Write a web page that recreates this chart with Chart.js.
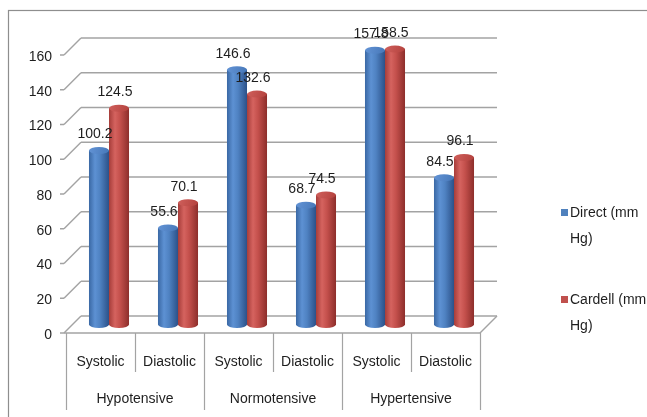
<!DOCTYPE html>
<html>
<head>
<meta charset="utf-8">
<script src="https://cdn.jsdelivr.net/npm/chart.js@4.4.1/dist/chart.umd.min.js"></script>
<style>
  html, body { margin: 0; padding: 0; background: #fff; overflow: hidden; }
  #wrap { width: 647px; height: 417px; position: relative; }
  canvas { display: block; }
</style>
</head>
<body>
<div id="wrap"><canvas id="c" width="647" height="417"></canvas></div>
<script>
// Blood pressure readings by group, two measuring methods
const categories = ['Systolic', 'Diastolic', 'Systolic', 'Diastolic', 'Systolic', 'Diastolic'];
const groups = ['Hypotensive', 'Normotensive', 'Hypertensive'];
const seriesNames = ['Direct (mm Hg)', 'Cardell (mm Hg)'];
const directValues = [100.2, 55.6, 146.6, 68.7, 157.8, 84.5];
const cardellValues = [124.5, 70.1, 132.6, 74.5, 158.5, 96.1];
const yTicks = [0, 20, 40, 60, 80, 100, 120, 140, 160];

const FONT = { family: "'Liberation Sans', Arial, sans-serif", size: 14 };
const TEXT = '#1e1e1e';
const LINE = '#a3a3a3';
const DEPTH = 17;           // wall depth of the pseudo-3D box
const HALF = DEPTH / 2;     // bars stand in the middle of the box

const palettes = [
  { base: '#4f81bd', body: ['#3a68a4', '#5d91d3', '#4f82c2', '#2c5189'], cap: ['#6394d6', '#4677b8'] },
  { base: '#c0504d', body: ['#a63d3a', '#d5635f', '#c4504c', '#8d2e2b'], cap: ['#d0605c', '#b3413d'] }
];

function line(ctx, x1, y1, x2, y2) {
  ctx.beginPath();
  ctx.moveTo(x1, y1);
  ctx.lineTo(x2, y2);
  ctx.stroke();
}

function cylinder(ctx, cx, top, base, w, pal) {
  const rx = w / 2, ry = 3.5;
  const g = ctx.createLinearGradient(cx - rx, 0, cx + rx, 0);
  g.addColorStop(0, pal.body[0]);
  g.addColorStop(0.3, pal.body[1]);
  g.addColorStop(0.55, pal.body[2]);
  g.addColorStop(1, pal.body[3]);
  ctx.beginPath();
  ctx.moveTo(cx - rx, top);
  ctx.lineTo(cx - rx, base);
  ctx.ellipse(cx, base, rx, ry, 0, Math.PI, 0, true);
  ctx.lineTo(cx + rx, top);
  ctx.closePath();
  ctx.fillStyle = g;
  ctx.fill();
  const cg = ctx.createLinearGradient(cx - rx, top - ry, cx + rx, top + ry);
  cg.addColorStop(0, pal.cap[0]);
  cg.addColorStop(1, pal.cap[1]);
  ctx.beginPath();
  ctx.ellipse(cx, top, rx, ry, 0, 0, Math.PI * 2);
  ctx.fillStyle = cg;
  ctx.fill();
}

const boxPlugin = {
  id: 'box3d',
  beforeDraw(chart) {
    const ctx = chart.ctx;
    ctx.save();
    ctx.strokeStyle = '#8e8e8e';
    ctx.lineWidth = 1.2;
    ctx.strokeRect(8.5, 10.5, 700, 460);
    ctx.restore();
  },
  beforeDatasetsDraw(chart) {
    const ctx = chart.ctx;
    const { left, right, bottom } = chart.chartArea;
    const y = chart.scales.y;
    ctx.save();
    ctx.strokeStyle = LINE;
    ctx.lineWidth = 1.5;
    yTicks.forEach(v => {
      const py = y.getPixelForValue(v);
      line(ctx, left - 6, py, left - 2, py);
      line(ctx, left - 2, py, left - 2 + DEPTH, py - DEPTH);
      line(ctx, left - 2 + DEPTH, py - DEPTH, right + DEPTH, py - DEPTH);
    });
    line(ctx, left - 2, bottom, right, bottom);
    line(ctx, right, bottom, right + DEPTH, bottom - DEPTH);
    ctx.restore();
    // bars sit half a box depth behind the front plane
    ctx.save();
    ctx.translate(HALF, -HALF);
  },
  afterDatasetsDraw(chart) {
    const ctx = chart.ctx;
    chart.data.datasets.forEach((ds, di) => {
      const meta = chart.getDatasetMeta(di);
      meta.data.forEach(el => {
        const p = el.getProps(['x', 'y', 'base', 'width'], true);
        cylinder(ctx, p.x, p.y, p.base, p.width, palettes[di]);
      });
    });
    ctx.restore();
    // value labels
    ctx.save();
    ctx.font = `${FONT.size}px ${FONT.family}`;
    ctx.fillStyle = TEXT;
    ctx.textAlign = 'center';
    ctx.textBaseline = 'middle';
    chart.data.datasets.forEach((ds, di) => {
      const meta = chart.getDatasetMeta(di);
      meta.data.forEach((el, i) => {
        const p = el.getProps(['x', 'y'], true);
        ctx.fillText(ds.data[i].toFixed(1), p.x + HALF - 4, p.y - HALF - 16);
      });
    });
    ctx.restore();
  },
  afterDraw(chart) {
    const ctx = chart.ctx;
    const { bottom } = chart.chartArea;
    const x = chart.scales.x;
    // category separators under the floor
    ctx.save();
    ctx.strokeStyle = LINE;
    ctx.lineWidth = 1.2;
    for (let i = 0; i <= categories.length; i++) {
      const px = Math.round(x.getPixelForValue(i - 0.5)) + 0.5;
      const len = i % 2 === 0 ? 77 : 39;
      line(ctx, px, bottom, px, bottom + len);
    }
    ctx.restore();
    // legend on the right, wrapped in a narrow column
    ctx.save();
    ctx.font = `${FONT.size}px ${FONT.family}`;
    ctx.textBaseline = 'middle';
    ctx.textAlign = 'left';
    const lx = 561, itemY = [213, 300], lineH = 26, maxW = 78;
    chart.data.datasets.forEach((ds, di) => {
      ctx.fillStyle = palettes[di].base;
      ctx.fillRect(lx, itemY[di] - 4, 7, 7);
      const words = ds.label.split(' ');
      const rows = [];
      let cur = '';
      words.forEach(w => {
        const t = cur ? cur + ' ' + w : w;
        if (cur && ctx.measureText(t).width > maxW) { rows.push(cur); cur = w; } else { cur = t; }
      });
      rows.push(cur);
      ctx.fillStyle = TEXT;
      rows.forEach((r, ri) => ctx.fillText(r, lx + 9, itemY[di] + ri * lineH));
    });
    ctx.restore();
  }
};

new Chart(document.getElementById('c'), {
  type: 'bar',
  data: {
    labels: categories,
    datasets: [
      { label: seriesNames[0], data: directValues, backgroundColor: palettes[0].base },
      { label: seriesNames[1], data: cardellValues, backgroundColor: palettes[1].base }
    ]
  },
  options: {
    responsive: false,
    animation: false,
    devicePixelRatio: 1,
    layout: { padding: { left: 0, top: 55, right: 167, bottom: 7 } },
    plugins: { legend: { display: false }, tooltip: { enabled: false } },
    datasets: { bar: { categoryPercentage: 0.58, barPercentage: 1, clip: false } },
    scales: {
      x: {
        type: 'category',
        labels: categories,
        offset: true,
        weight: 0,
        grid: { display: false, drawTicks: false },
        border: { display: false },
        ticks: { font: FONT, color: TEXT, padding: 21, autoSkip: false, maxRotation: 0 },
        afterFit(s) { s.height = 39; }
      },
      x2: {
        type: 'category',
        labels: groups,
        position: 'bottom',
        offset: true,
        weight: 1,
        grid: { display: false, drawTicks: false },
        border: { display: false },
        ticks: { font: FONT, color: TEXT, padding: 19, autoSkip: false, maxRotation: 0 },
        afterFit(s) { s.height = 38; }
      },
      y: {
        min: 0,
        max: 160,
        afterBuildTicks(s) { s.ticks = yTicks.map(v => ({ value: v })); },
        grid: { display: false, drawTicks: false },
        border: { display: false },
        ticks: { font: FONT, color: TEXT, padding: 14, labelOffset: 2 },
        afterFit(s) { s.width = 66; }
      }
    }
  },
  plugins: [boxPlugin]
});
</script>
</body>
</html>
